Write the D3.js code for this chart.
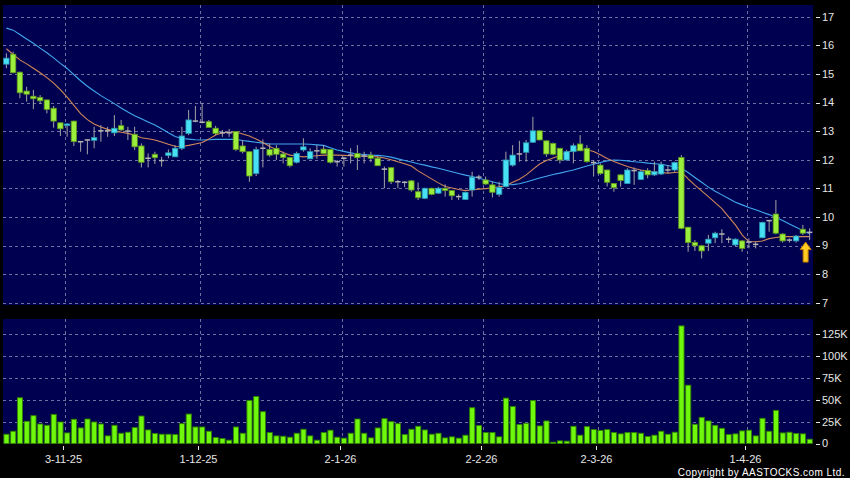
<!DOCTYPE html>
<html><head><meta charset="utf-8">
<script src="https://cdn.jsdelivr.net/npm/d3@7"></script>
<style>html,body{margin:0;padding:0;background:#000;}svg{display:block;}</style>
</head><body>
<svg id="chart" width="850" height="478"></svg>
<script>
// ---- data ----
const openP = [15.34,15.69,15.06,14.40,14.22,14.18,14.09,13.80,13.29,13.20,
13.35,12.63,12.69,12.68,13.01,13.01,12.94,13.19,13.00,12.89,
12.48,12.05,12.19,11.97,12.15,12.10,12.40,12.92,13.35,13.31,
13.33,13.10,12.94,12.94,12.98,12.48,12.28,11.52,12.40,12.36,
12.40,12.20,12.08,11.91,12.34,12.03,12.31,12.37,12.36,11.93,
12.05,12.16,12.22,12.13,12.16,12.05,11.67,11.72,11.23,11.21,
11.26,10.88,10.65,11.00,10.83,11.00,10.92,10.71,10.61,10.94,
11.39,11.29,11.12,10.79,11.06,11.81,12.20,12.26,12.61,13.01,
12.66,12.57,12.40,11.99,12.28,12.55,12.40,11.90,11.81,11.64,
11.17,11.47,11.17,11.62,11.31,11.62,11.47,11.50,11.64,11.64,
12.08,9.64,9.11,8.99,9.08,9.27,9.40,9.22,9.02,9.16,
9.12,9.04,9.27,9.87,10.10,9.40,9.19,9.16,9.57,9.46];
const closeP = [15.55,15.04,14.34,14.29,14.13,14.06,13.76,13.35,13.08,13.25,
12.63,12.63,12.69,12.77,13.01,13.01,13.10,13.04,13.00,12.45,
11.91,12.05,12.07,11.97,12.24,12.40,12.83,13.39,13.35,13.31,
13.13,12.92,12.94,12.94,12.36,12.28,11.43,12.36,12.40,12.16,
12.19,12.08,11.79,12.22,12.45,12.28,12.31,12.22,11.91,11.93,
12.05,12.16,12.07,12.13,12.05,11.79,11.67,11.23,11.23,11.21,
10.94,10.67,11.00,10.79,11.00,10.92,10.74,10.71,10.86,11.39,
11.39,11.15,10.86,11.03,11.99,12.16,12.20,12.59,13.01,12.69,
12.20,12.19,11.99,12.28,12.49,12.31,11.93,11.90,11.52,11.21,
11.02,11.27,11.64,11.62,11.58,11.47,11.58,11.84,11.64,11.90,
9.60,9.10,8.99,8.81,9.22,9.43,9.40,9.22,9.22,8.90,
9.12,9.04,9.81,9.87,9.43,9.16,9.19,9.33,9.43,9.46];
const highP = [15.72,15.78,15.08,14.55,14.44,14.26,14.10,13.88,13.30,13.27,
13.36,12.65,12.71,13.15,13.21,13.15,13.56,13.39,13.15,13.15,
12.57,12.22,12.28,12.10,12.36,12.51,13.15,13.74,13.88,13.99,
13.39,13.18,13.04,13.07,12.99,12.69,12.29,12.45,12.71,12.57,
12.51,12.28,12.09,12.28,12.75,12.40,12.51,12.51,12.37,11.99,
12.10,12.40,12.51,12.28,12.28,12.10,11.76,11.73,11.29,11.25,
11.29,11.20,11.02,11.02,11.05,11.14,10.93,10.79,10.88,11.58,
11.47,11.41,11.23,11.23,12.28,12.51,12.66,12.69,13.50,13.02,
12.67,12.60,12.41,12.34,12.57,12.86,12.51,11.99,11.87,11.65,
11.18,11.48,11.70,11.73,11.64,11.70,11.93,11.93,11.81,11.93,
12.16,9.65,9.19,9.02,9.37,9.48,9.57,9.31,9.25,9.19,
9.25,9.13,9.83,9.89,10.59,9.43,9.25,9.37,9.72,9.60];
const lowP = [15.20,15.02,14.15,14.03,13.77,13.95,13.62,13.12,12.83,12.80,
12.48,12.28,12.19,12.40,12.63,12.80,12.83,13.00,12.69,12.34,
11.73,11.73,11.85,11.76,12.05,12.10,12.34,12.86,13.31,13.27,
13.13,12.86,12.80,12.80,12.30,12.22,11.23,11.43,11.73,12.10,
11.99,11.87,11.73,11.87,12.28,12.03,12.03,12.20,11.87,11.76,
11.76,11.87,11.64,11.87,11.91,11.78,11.00,11.15,11.00,11.04,
10.88,10.59,10.62,10.76,10.80,10.71,10.59,10.59,10.59,10.71,
11.29,11.12,10.68,10.71,11.03,11.76,11.93,11.93,12.59,12.68,
12.10,12.15,11.87,11.97,11.87,12.30,11.90,11.41,11.47,11.06,
10.88,11.06,11.15,11.12,11.29,11.35,11.43,11.47,11.52,11.58,
9.57,8.78,8.81,8.55,8.81,9.08,9.08,9.08,8.98,8.78,
8.90,8.90,9.27,9.48,9.39,9.10,9.10,9.10,9.37,9.19];
const maShort = [15.88,15.68,15.49,15.35,15.20,15.04,14.87,14.68,14.45,14.19,
13.90,13.61,13.40,13.25,13.14,13.06,13.00,12.96,12.92,12.86,
12.77,12.73,12.69,12.62,12.54,12.47,12.46,12.50,12.55,12.60,
12.72,12.86,12.94,12.96,12.97,12.90,12.83,12.72,12.60,12.46,
12.36,12.25,12.16,12.13,12.10,12.12,12.14,12.16,12.16,12.16,
12.15,12.14,12.13,12.12,12.11,12.10,12.06,12.00,11.93,11.86,
11.78,11.61,11.47,11.33,11.19,11.06,11.01,10.96,10.92,10.95,
10.97,10.99,11.02,11.05,11.09,11.21,11.32,11.47,11.66,11.85,
11.97,12.06,12.15,12.25,12.34,12.35,12.35,12.29,12.17,12.04,
11.94,11.85,11.76,11.69,11.64,11.60,11.57,11.55,11.53,11.55,
11.57,11.33,11.11,10.91,10.71,10.50,10.29,10.00,9.72,9.37,
9.13,9.13,9.16,9.24,9.28,9.31,9.31,9.31,9.31,9.31];
const maLong = [16.60,16.53,16.38,16.22,16.07,15.90,15.74,15.56,15.37,15.19,
14.97,14.76,14.57,14.40,14.24,14.10,13.96,13.81,13.67,13.54,
13.43,13.32,13.21,13.08,12.94,12.81,12.74,12.72,12.70,12.69,
12.70,12.71,12.71,12.71,12.71,12.67,12.64,12.61,12.58,12.55,
12.55,12.55,12.55,12.55,12.55,12.54,12.52,12.50,12.42,12.34,
12.29,12.24,12.20,12.18,12.16,12.15,12.13,12.09,12.03,11.97,
11.92,11.86,11.81,11.75,11.70,11.64,11.58,11.52,11.46,11.41,
11.35,11.29,11.23,11.17,11.12,11.13,11.16,11.22,11.29,11.36,
11.42,11.48,11.53,11.59,11.64,11.71,11.78,11.84,11.90,11.96,
11.99,11.98,11.96,11.93,11.91,11.88,11.86,11.84,11.80,11.75,
11.70,11.55,11.38,11.21,11.04,10.90,10.77,10.64,10.51,10.42,
10.33,10.25,10.16,10.08,9.98,9.87,9.75,9.64,9.52,9.41];
const volume = [10600,14000,52300,25400,31800,22300,20800,33300,24600,12100,
27700,17800,28000,24600,22300,8700,20800,11700,12900,18200,
31400,15500,11400,10600,10600,10200,22700,33700,18900,18900,
14000,6800,5700,3800,18900,11700,49200,53800,36400,12500,
8700,8300,7200,11700,16300,8700,3800,12500,15200,7200,
6100,11700,28000,11700,6400,17800,28400,25000,22700,10200,
16300,19700,15500,10600,11700,6400,7600,6100,9500,40900,
20500,12500,12500,7600,51900,42400,21600,23100,49200,20100,
25800,1500,3000,2700,19700,9500,19300,15900,14800,15900,
12500,11000,12500,12500,11700,8000,9500,14000,10600,12900,
134500,66700,22000,29900,25800,20800,17400,10200,11000,14400,
15200,8700,28800,14000,37900,12100,12900,11400,11000,4900];
const dateTickIndex = [9, 29, 50, 71, 88, 110];
const dateTickLabels = ["3-11-25", "1-12-25", "2-1-26", "2-2-26", "2-3-26", "1-4-26"];
const priceTicks = [7,8,9,10,11,12,13,14,15,16,17];
const volumeTicks = [0,25000,50000,75000,100000,125000];
const volumeTickLabels = ["0","25K","50K","75K","100K","125K"];
const copyright = "Copyright by AASTOCKS.com Ltd.";

// ---- layout ----
const W = 850, H = 478;
const plotL = 3, plotR = 813;
const priceTop = 5, priceBot = 305;
const volTop = 319, volBot = 443.5;
const N = openP.length;

const svg = d3.select("#chart");
svg.append("rect").attr("x",0).attr("y",0).attr("width",W).attr("height",H).attr("fill","#000");

const x = d3.scaleBand().domain(d3.range(N)).range([plotL, plotR]).paddingInner(0).paddingOuter(0);
const bw = x.bandwidth();
const cx = i => x(i) + bw/2;
const yP = d3.scaleLinear().domain([7,17]).range([302.7, 16.7]);
const yV = d3.scaleLinear().domain([0,125000]).range([volBot, 334.2]);

const navy = "#000050";
const gridCol = "#7070a0";
const textCol = "#e6e6e6";

// panels
svg.append("rect").attr("x",plotL).attr("y",priceTop).attr("width",plotR-plotL).attr("height",priceBot-priceTop).attr("fill",navy);
svg.append("rect").attr("x",plotL).attr("y",volTop).attr("width",plotR-plotL).attr("height",volBot-volTop).attr("fill",navy);

// grids
const gP = svg.append("g");
gP.selectAll("line.h").data(priceTicks).join("line")
  .attr("x1",plotL).attr("x2",plotR)
  .attr("y1",d=>Math.round(yP(d))+0.5).attr("y2",d=>Math.round(yP(d))+0.5)
  .attr("stroke",gridCol).attr("stroke-width",1).attr("stroke-dasharray","3,3");
const tickX = i => Math.round(x(i)+1)+0.5;
gP.selectAll("line.v").data(dateTickIndex).join("line")
  .attr("x1",d=>tickX(d)).attr("x2",d=>tickX(d))
  .attr("y1",priceTop).attr("y2",priceBot)
  .attr("stroke",gridCol).attr("stroke-width",1).attr("stroke-dasharray","3,3");

const gV = svg.append("g");
gV.selectAll("line.h").data(volumeTicks.slice(1)).join("line")
  .attr("x1",plotL).attr("x2",plotR)
  .attr("y1",d=>Math.round(yV(d))+0.5).attr("y2",d=>Math.round(yV(d))+0.5)
  .attr("stroke",gridCol).attr("stroke-width",1).attr("stroke-dasharray","3,3");
gV.selectAll("line.v").data(dateTickIndex).join("line")
  .attr("x1",d=>tickX(d)).attr("x2",d=>tickX(d))
  .attr("y1",volTop).attr("y2",volBot)
  .attr("stroke",gridCol).attr("stroke-width",1).attr("stroke-dasharray","3,3");

// volume bars
svg.append("g").selectAll("rect").data(volume).join("rect")
  .attr("x",(d,i)=>x(i)+0.9).attr("width",bw-1.6)
  .attr("y",d=>yV(d)).attr("height",d=>volBot-yV(d))
  .attr("fill","#6ff80c").attr("stroke","#2f8000").attr("stroke-width",0.9);

// moving averages
const line = d3.line().x((d,i)=>cx(i)).y(d=>yP(d));
svg.append("path").datum(maLong).attr("d",line).attr("fill","none").attr("stroke","#40a8ee").attr("stroke-width",1.1);
svg.append("path").datum(maShort).attr("d",line).attr("fill","none").attr("stroke","#d08858").attr("stroke-width",1.1);

// candles
const candles = d3.range(N).map(i=>({i, o:openP[i], h:highP[i], l:lowP[i], c:closeP[i]}));
const gC = svg.append("g");
gC.selectAll("line.wick").data(candles).join("line")
  .attr("x1",d=>cx(d.i)).attr("x2",d=>cx(d.i))
  .attr("y1",d=>yP(d.h)).attr("y2",d=>yP(d.l))
  .attr("stroke","#a4a4a4").attr("stroke-width",1);
const bodyW = 5.4;
gC.selectAll("rect.body").data(candles.filter(d=>d.o!==d.c)).join("rect")
  .attr("x",d=>cx(d.i)-bodyW/2).attr("width",bodyW)
  .attr("y",d=>yP(Math.max(d.o,d.c)))
  .attr("height",d=>Math.max(1.5, Math.abs(yP(d.o)-yP(d.c))))
  .attr("fill",d=>d.c>d.o ? "#48e0f4" : "#9cee3c")
  .attr("stroke",d=>d.c>d.o ? "#2a98b0" : "#5c961c").attr("stroke-width",0.8);
gC.selectAll("line.flat").data(candles.filter(d=>d.o===d.c)).join("line")
  .attr("x1",d=>cx(d.i)-bodyW/2).attr("x2",d=>cx(d.i)+bodyW/2)
  .attr("y1",d=>yP(d.c)).attr("y2",d=>yP(d.c))
  .attr("stroke","#b4b4b4").attr("stroke-width",1.5);

// arrow under last candle
const last = N-1;
const ax = cx(last) - 4, ay = yP(lowP[last]) + 2;
svg.append("path")
  .attr("d",`M${ax},${ay} L${ax+5.5},${ay+7.5} L${ax+2.5},${ay+7.5} L${ax+2.5},${ay+20} L${ax-2.5},${ay+20} L${ax-2.5},${ay+7.5} L${ax-5.5},${ay+7.5} Z`)
  .attr("fill","#ffcc22").attr("stroke","#c07a00").attr("stroke-width",1);

// right axes
const font = "Arial, 'Liberation Sans', sans-serif";
const gA = svg.append("g");
gA.selectAll("line.pt").data(priceTicks).join("line")
  .attr("x1",816).attr("x2",820).attr("y1",d=>Math.round(yP(d))+0.5).attr("y2",d=>Math.round(yP(d))+0.5)
  .attr("stroke",textCol).attr("stroke-width",1);
gA.selectAll("text.pt").data(priceTicks).join("text")
  .attr("x",822).attr("y",d=>yP(d)).attr("dy","0.36em")
  .attr("fill",textCol).attr("font-family",font).attr("font-size",11)
  .text(d=>d);
gA.selectAll("line.vt").data(volumeTicks).join("line")
  .attr("x1",816).attr("x2",820).attr("y1",d=>Math.round(yV(d))+0.5).attr("y2",d=>Math.round(yV(d))+0.5)
  .attr("stroke",textCol).attr("stroke-width",1);
gA.selectAll("text.vt").data(volumeTicks).join("text")
  .attr("x",822).attr("y",d=>yV(d)).attr("dy","0.36em")
  .attr("fill",textCol).attr("font-family",font).attr("font-size",11)
  .text((d,i)=>volumeTickLabels[i]);

// bottom date axis
gA.selectAll("line.dt").data(dateTickIndex).join("line")
  .attr("x1",d=>tickX(d)-2).attr("x2",d=>tickX(d)-2).attr("y1",446).attr("y2",450)
  .attr("stroke",textCol).attr("stroke-width",1);
gA.selectAll("text.dt").data(dateTickIndex).join("text")
  .attr("x",d=>tickX(d)-2).attr("y",462.5).attr("text-anchor","middle")
  .attr("fill",textCol).attr("font-family",font).attr("font-size",11)
  .text((d,i)=>dateTickLabels[i]);

svg.append("text").attr("x",845).attr("y",476).attr("text-anchor","end")
  .attr("fill","#ffffff").attr("font-family",font).attr("font-size",10)
  .attr("letter-spacing","0.45px").text(copyright);
</script>
</body></html>
